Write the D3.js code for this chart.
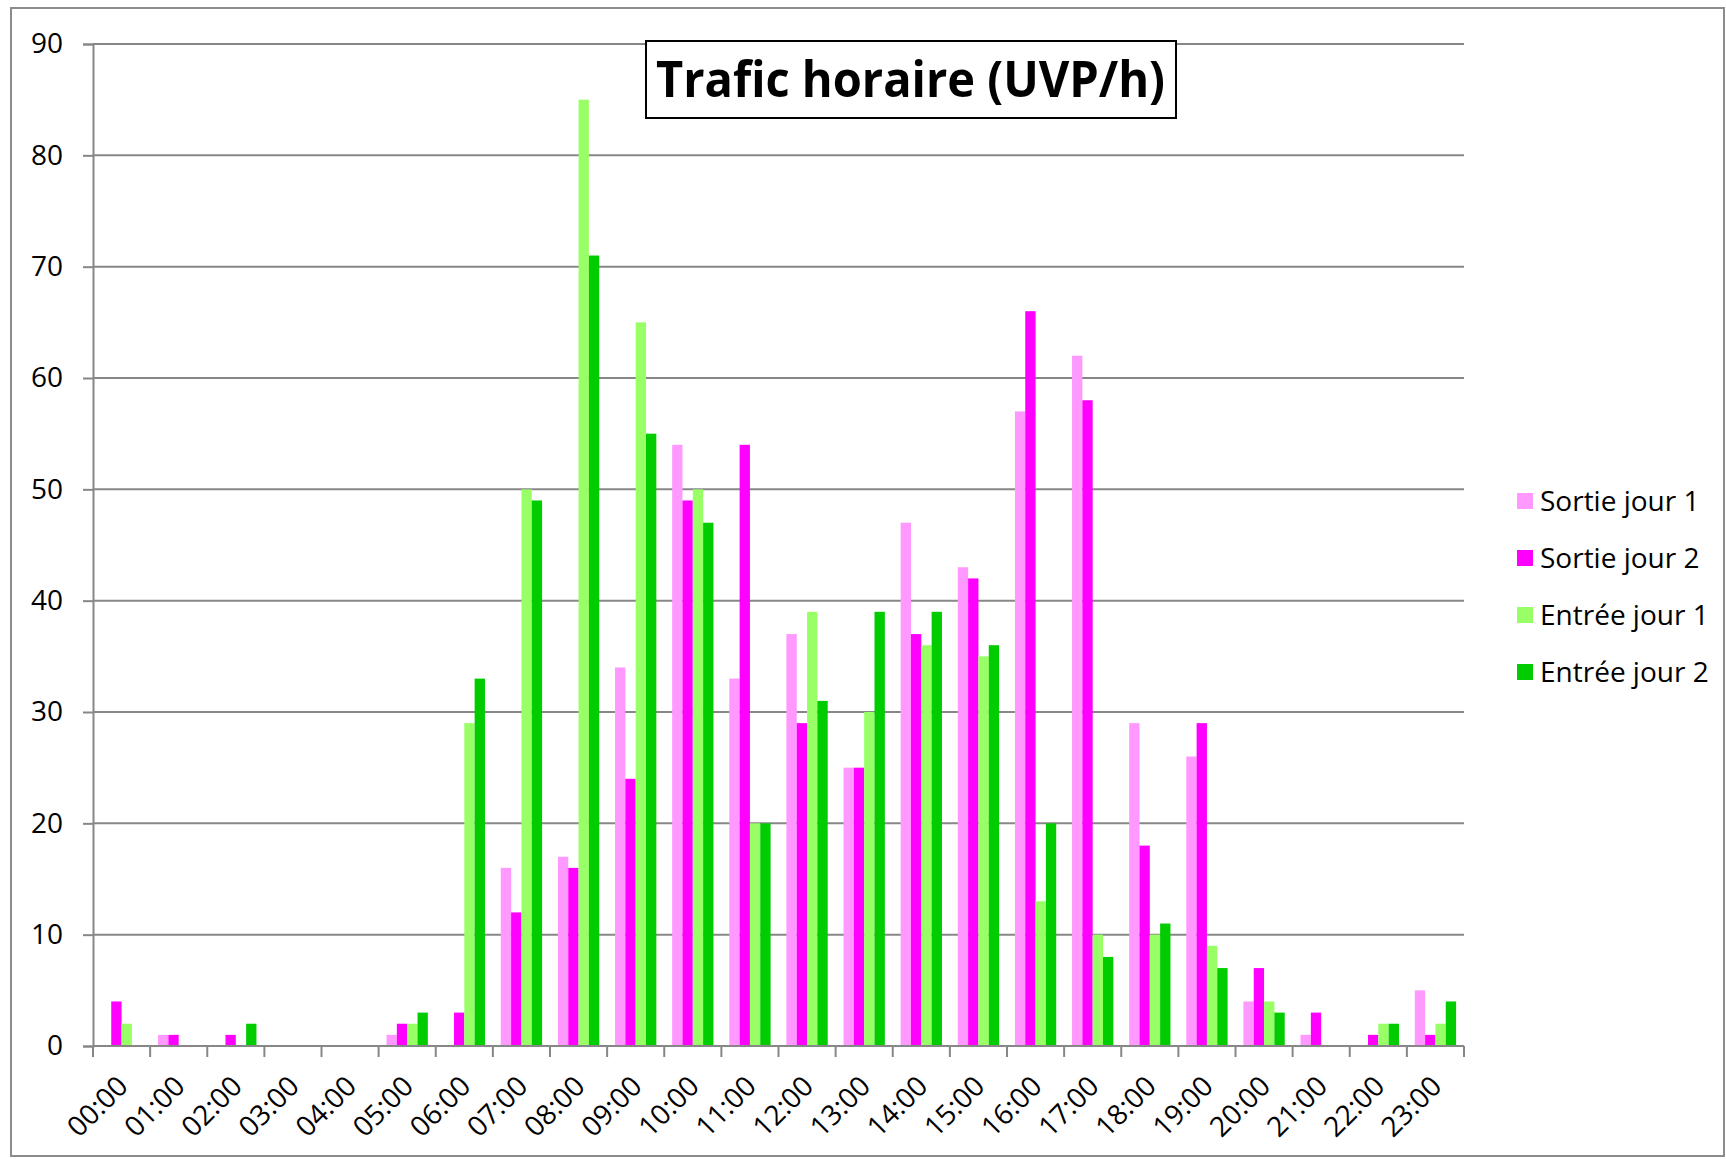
<!DOCTYPE html>
<html>
<head>
<meta charset="utf-8">
<script src="https://cdn.jsdelivr.net/npm/d3@7"></script>
<style>
  html, body { margin: 0; padding: 0; background: #fff; }
  svg { display: block; }
  text { font-family: "Open Sans", "Liberation Sans", sans-serif; fill: #000; }
</style>
</head>
<body>
<svg id="chart" width="1726" height="1159"></svg>
<script>
const hours = ["00:00","01:00","02:00","03:00","04:00","05:00","06:00","07:00","08:00","09:00","10:00","11:00",
               "12:00","13:00","14:00","15:00","16:00","17:00","18:00","19:00","20:00","21:00","22:00","23:00"];
const seriesNames = ["Sortie jour 1","Sortie jour 2","Entrée jour 1","Entrée jour 2"];
const sortieJour1 = [0,1,0,0,0,1,0,16,17,34,54,33,37,25,47,43,57,62,29,26,4,1,0,5];
const sortieJour2 = [4,1,1,0,0,2,3,12,16,24,49,54,29,25,37,42,66,58,18,29,7,3,1,1];
const entreeJour1 = [2,0,0,0,0,2,29,50,85,65,50,20,39,30,36,35,13,10,10,9,4,0,2,2];
const entreeJour2 = [0,0,2,0,0,3,33,49,71,55,47,20,31,39,39,36,20,8,11,7,3,0,2,4];
const yTicks = [0,10,20,30,40,50,60,70,80,90];
const colors = ["#FF99FF","#FF00FF","#99FF66","#00CC00"];
const titleText = "Trafic horaire (UVP/h)";

const seriesValues = [sortieJour1, sortieJour2, entreeJour1, entreeJour2];

const svg = d3.select("#chart");
const mLeft = 93, mRight = 1464, mTop = 44, mBottom = 1046;

// outer border
svg.append("rect").attr("x", 11).attr("y", 8).attr("width", 1713).attr("height", 1148)
  .attr("fill", "none").attr("stroke", "#8c8c8c").attr("stroke-width", 2);

const x0 = d3.scaleBand().domain(hours).range([mLeft, mRight]).paddingInner(0.277).paddingOuter(0.1385);
const x1 = d3.scaleBand().domain(d3.range(4)).range([0, x0.bandwidth()]);
const y = d3.scaleLinear().domain([0, 90]).range([mBottom, mTop]);

// gridlines
svg.append("g").selectAll("line").data(yTicks.filter(d => d > 0)).join("line")
  .attr("x1", mLeft).attr("x2", mRight)
  .attr("y1", d => y(d)).attr("y2", d => y(d))
  .attr("stroke", "#878787").attr("stroke-width", 2);

// bars
const rows = hours.map((h, i) => ({ h, vals: seriesValues.map(s => s[i]) }));
const groups = svg.append("g").selectAll("g").data(rows).join("g")
  .attr("transform", d => `translate(${x0(d.h)},0)`);
groups.selectAll("rect").data(d => d.vals.map((v, k) => ({ v, k }))).join("rect")
  .attr("x", d => x1(d.k)).attr("width", x1.bandwidth())
  .attr("y", d => y(d.v)).attr("height", d => y(0) - y(d.v))
  .attr("fill", d => colors[d.k]);

// y axis
const yAxis = d3.axisLeft(y).tickValues(yTicks).tickSize(10).tickPadding(20).tickFormat(d3.format("d"));
const gy = svg.append("g").attr("transform", `translate(${mLeft},0)`).call(yAxis);
gy.select(".domain").attr("stroke", "#878787").attr("stroke-width", 2);
gy.selectAll(".tick line").attr("stroke", "#878787").attr("stroke-width", 2);
gy.selectAll(".tick text").attr("font-size", 28).attr("font-family", "Open Sans");

// x axis with ticks at category boundaries
const gx = svg.append("g");
gx.append("line").attr("x1", mLeft).attr("x2", mRight).attr("y1", mBottom).attr("y2", mBottom)
  .attr("stroke", "#878787").attr("stroke-width", 2);
const step = x0.step();
const boundaries = d3.range(hours.length + 1).map(i => mLeft + i * step);
gx.selectAll("line.tk").data(boundaries).join("line").attr("class", "tk")
  .attr("x1", d => d).attr("x2", d => d).attr("y1", mBottom).attr("y2", mBottom + 11)
  .attr("stroke", "#878787").attr("stroke-width", 2);
gx.selectAll("text").data(hours).join("text")
  .attr("transform", d => `translate(${x0(d) + x0.bandwidth() / 2 + 8},${mBottom + 42}) rotate(-45)`)
  .attr("text-anchor", "end")
  .attr("font-size", 28)
  .text(d => d);

// title box
const tg = svg.append("g");
tg.append("rect").attr("x", 646).attr("y", 41).attr("width", 530).attr("height", 77)
  .attr("fill", "#fff").attr("stroke", "#000").attr("stroke-width", 2);
tg.append("text").attr("x", 656).attr("y", 97)
  .attr("font-size", 50).attr("font-weight", "bold")
  .attr("textLength", 509).attr("lengthAdjust", "spacingAndGlyphs")
  .text(titleText);

// legend
const lg = svg.append("g").selectAll("g").data(seriesNames).join("g")
  .attr("transform", (d, i) => `translate(1517,${501 + i * 57})`);
lg.append("rect").attr("x", 0).attr("y", -8).attr("width", 16).attr("height", 16)
  .attr("fill", (d, i) => colors[i]);
lg.append("text").attr("x", 23).attr("y", 10).attr("font-size", 28).text(d => d);
</script>
</body>
</html>
